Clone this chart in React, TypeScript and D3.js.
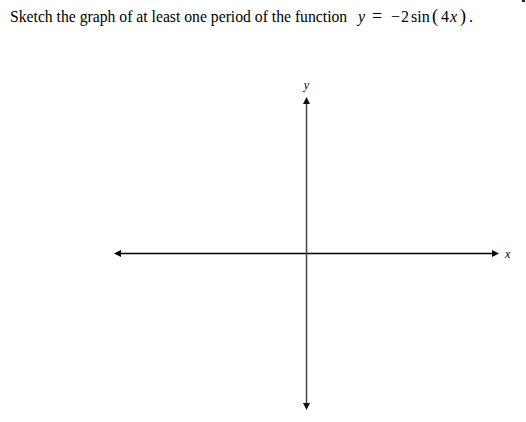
import * as d3 from "d3";
import React, { useEffect, useRef } from "react";

// axis extents (data units) and labels
const xExtent = [-5, 5];
const yExtent = [-4, 4];
const axisLabels = ["x", "y"];
const prompt = "Sketch the graph of at least one period of the function";
const formulaParts = ["y", "=", "\u2212", "2", "sin", "(", "4", "x", ")", "."];

const App: React.FC = () => {
  const ref = useRef<SVGSVGElement>(null);

  useEffect(() => {
    if (!ref.current) return;
    const svg = d3.select(ref.current);
    svg.selectAll("*").remove();

    const width = 526,
      height = 422;

    const x = d3.scaleLinear().domain(xExtent).range([114, 499]);
    const y = d3.scaleLinear().domain(yExtent).range([410, 97]);

    const serif = "'Liberation Serif', 'Times New Roman', serif";

    svg
      .append("rect")
      .attr("width", width)
      .attr("height", height)
      .attr("fill", "#fff");

    // tiny mark in top-right corner
    svg
      .append("rect")
      .attr("x", 522)
      .attr("y", 0)
      .attr("width", 3)
      .attr("height", 2)
      .attr("fill", "#222");

    // question text
    svg
      .append("text")
      .attr("x", 10)
      .attr("y", 22)
      .style("font-family", serif)
      .style("font-size", "15.7px")
      .style("fill", "#000")
      .text(prompt);

    const f = svg
      .append("text")
      .attr("y", 22)
      .style("font-family", serif)
      .style("font-size", "16px")
      .style("fill", "#000");
    const partX = [358, 372, 391, 401, 411, 432, 441, 450, 460, 469];
    const partSize = [16, 18, 16, 16, 16, 18, 16, 16, 18, 16];
    formulaParts.forEach((p, i) => {
      f.append("tspan")
        .attr("x", partX[i])
        .style("font-style", p === "y" || p === "x" ? "italic" : "normal")
        .style("font-size", `${partSize[i]}px`)
        .text(p);
    });

    const x0 = x(0),
      y0 = y(0);

    const head = (
      tip: [number, number],
      dir: [number, number],
      color: string
    ) => {
      const len = 7,
        half = 3.5;
      const bx = tip[0] - dir[0] * len,
        by = tip[1] - dir[1] * len;
      const px = -dir[1] * half,
        py = dir[0] * half;
      svg
        .append("path")
        .attr(
          "d",
          `M${tip[0]},${tip[1]}L${bx + px},${by + py}L${bx - px},${by - py}Z`
        )
        .attr("fill", color);
    };

    // horizontal axis
    svg
      .append("line")
      .attr("x1", x(xExtent[0]) + 4)
      .attr("x2", x(xExtent[1]) - 4)
      .attr("y1", y0)
      .attr("y2", y0)
      .attr("stroke", "#000")
      .attr("stroke-width", 1.6);
    head([x(xExtent[0]), y0], [-1, 0], "#000");
    head([x(xExtent[1]), y0], [1, 0], "#000");

    // vertical axis
    svg
      .append("line")
      .attr("x1", x0)
      .attr("x2", x0)
      .attr("y1", y(yExtent[1]) + 4)
      .attr("y2", y(yExtent[0]) - 4)
      .attr("stroke", "#444")
      .attr("stroke-width", 1.5);
    head([x0, y(yExtent[1])], [0, -1], "#111");
    head([x0, y(yExtent[0])], [0, 1], "#111");

    // axis labels
    svg
      .append("text")
      .attr("x", x(xExtent[1]) + 6)
      .attr("y", y0 + 4)
      .style("font-family", serif)
      .style("font-style", "italic")
      .style("font-size", "12px")
      .text(axisLabels[0]);
    svg
      .append("text")
      .attr("x", x0)
      .attr("y", y(yExtent[1]) - 8)
      .attr("text-anchor", "middle")
      .style("font-family", serif)
      .style("font-style", "italic")
      .style("font-size", "12px")
      .text(axisLabels[1]);
  }, []);

  return (
    <svg
      ref={ref}
      width={526}
      height={422}
      style={{ position: "absolute", left: 0, top: 0 }}
    />
  );
};

export default App;
